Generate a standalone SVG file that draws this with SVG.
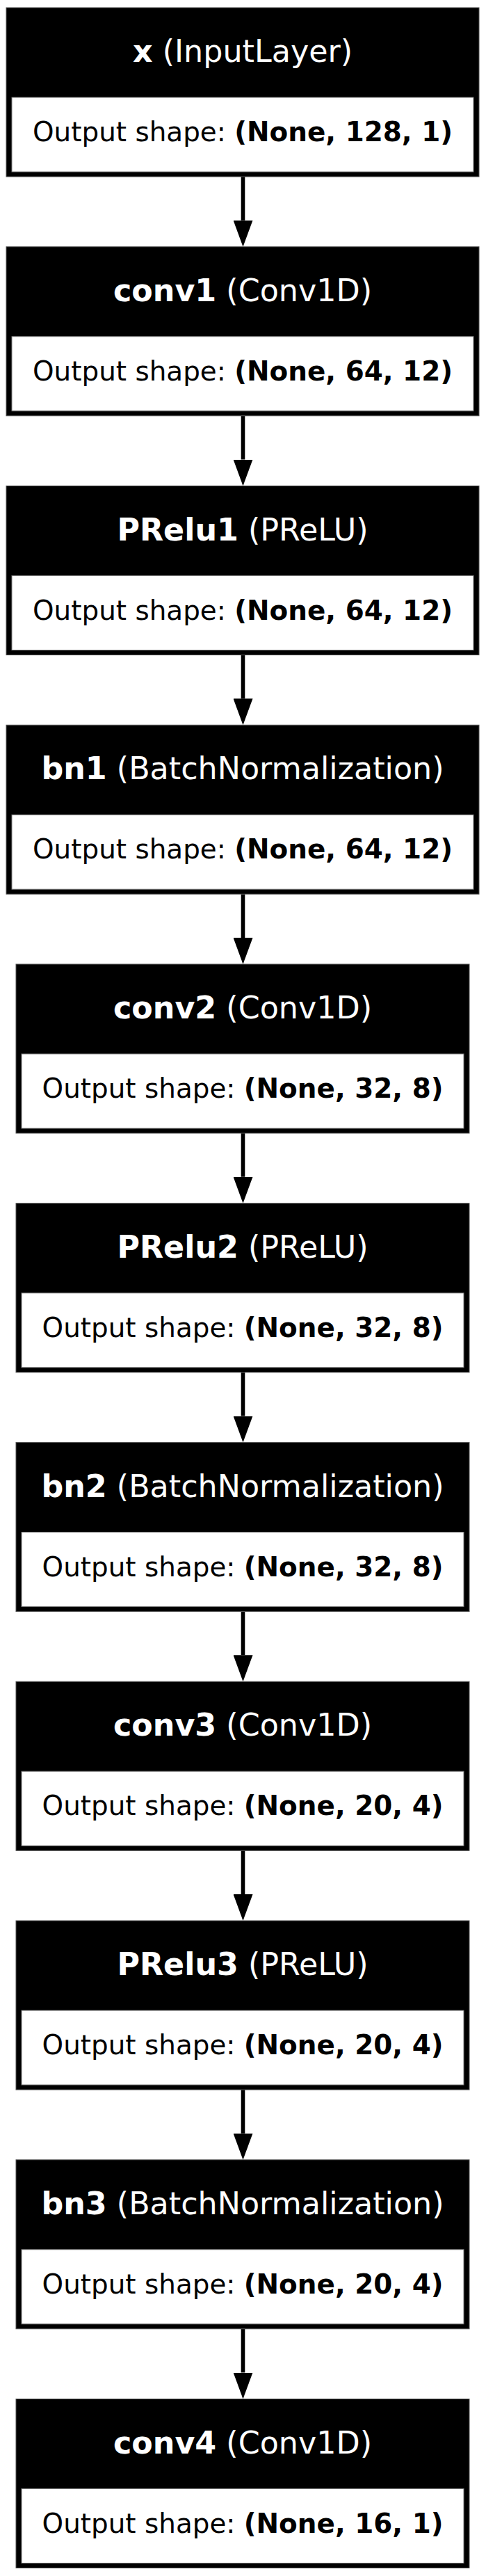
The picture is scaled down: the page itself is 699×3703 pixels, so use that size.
<svg xmlns="http://www.w3.org/2000/svg" width="699" height="3703" viewBox="0 0 699 3703">
<style>
.box{fill:#000;stroke:#555;stroke-width:1}
.cell{fill:#fff;stroke:#777;stroke-width:1}
.t{font-family:"DejaVu Sans",sans-serif;font-size:44.4px;fill:#fff;text-anchor:middle}
.o{font-family:"DejaVu Sans",sans-serif;font-size:38.9px;fill:#000;text-anchor:middle}
.b{font-weight:bold}
.e{stroke:#000;stroke-width:5.6;fill:none}
</style>
<defs>
<marker id="ah" markerUnits="userSpaceOnUse" markerWidth="38" markerHeight="28" refX="0" refY="14" orient="auto" viewBox="0 0 38 28">
<path d="M0,0 L38,14 L0,28 z" fill="#000"/>
</marker>
</defs>
<rect width="699" height="3703" fill="#fff"/>
<g id="connectors">
<line class="e" x1="349.5" y1="254" x2="349.5" y2="316.75" marker-end="url(#ah)"/>
<line class="e" x1="349.5" y1="597.75" x2="349.5" y2="660.5" marker-end="url(#ah)"/>
<line class="e" x1="349.5" y1="941.5" x2="349.5" y2="1004.25" marker-end="url(#ah)"/>
<line class="e" x1="349.5" y1="1285.25" x2="349.5" y2="1348" marker-end="url(#ah)"/>
<line class="e" x1="349.5" y1="1629" x2="349.5" y2="1691.75" marker-end="url(#ah)"/>
<line class="e" x1="349.5" y1="1972.75" x2="349.5" y2="2035.5" marker-end="url(#ah)"/>
<line class="e" x1="349.5" y1="2316.5" x2="349.5" y2="2379.25" marker-end="url(#ah)"/>
<line class="e" x1="349.5" y1="2660.25" x2="349.5" y2="2723" marker-end="url(#ah)"/>
<line class="e" x1="349.5" y1="3004" x2="349.5" y2="3066.75" marker-end="url(#ah)"/>
<line class="e" x1="349.5" y1="3347.75" x2="349.5" y2="3410.5" marker-end="url(#ah)"/>
</g>
<g id="x">
<rect class="box" x="9" y="11" width="680" height="243"/>
<rect class="cell" x="17" y="140" width="664" height="107"/>
<text class="t" x="349" y="89"><tspan class="b">x</tspan> (InputLayer)</text>
<text class="o" x="349" y="203">Output shape: <tspan class="b">(None, 128, 1)</tspan></text>
</g>
<g id="conv1">
<rect class="box" x="9" y="354.75" width="680" height="243"/>
<rect class="cell" x="17" y="483.75" width="664" height="107"/>
<text class="t" x="349" y="432.75"><tspan class="b">conv1</tspan> (Conv1D)</text>
<text class="o" x="349" y="546.75">Output shape: <tspan class="b">(None, 64, 12)</tspan></text>
</g>
<g id="PRelu1">
<rect class="box" x="9" y="698.5" width="680" height="243"/>
<rect class="cell" x="17" y="827.5" width="664" height="107"/>
<text class="t" x="349" y="776.5"><tspan class="b">PRelu1</tspan> (PReLU)</text>
<text class="o" x="349" y="890.5">Output shape: <tspan class="b">(None, 64, 12)</tspan></text>
</g>
<g id="bn1">
<rect class="box" x="9" y="1042.25" width="680" height="243"/>
<rect class="cell" x="17" y="1171.25" width="664" height="107"/>
<text class="t" x="349" y="1120.25"><tspan class="b">bn1</tspan> (BatchNormalization)</text>
<text class="o" x="349" y="1234.25">Output shape: <tspan class="b">(None, 64, 12)</tspan></text>
</g>
<g id="conv2">
<rect class="box" x="23" y="1386" width="652" height="243"/>
<rect class="cell" x="31" y="1515" width="636" height="107"/>
<text class="t" x="349" y="1464"><tspan class="b">conv2</tspan> (Conv1D)</text>
<text class="o" x="349" y="1578">Output shape: <tspan class="b">(None, 32, 8)</tspan></text>
</g>
<g id="PRelu2">
<rect class="box" x="23" y="1729.75" width="652" height="243"/>
<rect class="cell" x="31" y="1858.75" width="636" height="107"/>
<text class="t" x="349" y="1807.75"><tspan class="b">PRelu2</tspan> (PReLU)</text>
<text class="o" x="349" y="1921.75">Output shape: <tspan class="b">(None, 32, 8)</tspan></text>
</g>
<g id="bn2">
<rect class="box" x="23" y="2073.5" width="652" height="243"/>
<rect class="cell" x="31" y="2202.5" width="636" height="107"/>
<text class="t" x="349" y="2151.5"><tspan class="b">bn2</tspan> (BatchNormalization)</text>
<text class="o" x="349" y="2265.5">Output shape: <tspan class="b">(None, 32, 8)</tspan></text>
</g>
<g id="conv3">
<rect class="box" x="23" y="2417.25" width="652" height="243"/>
<rect class="cell" x="31" y="2546.25" width="636" height="107"/>
<text class="t" x="349" y="2495.25"><tspan class="b">conv3</tspan> (Conv1D)</text>
<text class="o" x="349" y="2609.25">Output shape: <tspan class="b">(None, 20, 4)</tspan></text>
</g>
<g id="PRelu3">
<rect class="box" x="23" y="2761" width="652" height="243"/>
<rect class="cell" x="31" y="2890" width="636" height="107"/>
<text class="t" x="349" y="2839"><tspan class="b">PRelu3</tspan> (PReLU)</text>
<text class="o" x="349" y="2953">Output shape: <tspan class="b">(None, 20, 4)</tspan></text>
</g>
<g id="bn3">
<rect class="box" x="23" y="3104.75" width="652" height="243"/>
<rect class="cell" x="31" y="3233.75" width="636" height="107"/>
<text class="t" x="349" y="3182.75"><tspan class="b">bn3</tspan> (BatchNormalization)</text>
<text class="o" x="349" y="3296.75">Output shape: <tspan class="b">(None, 20, 4)</tspan></text>
</g>
<g id="conv4">
<rect class="box" x="23" y="3448.5" width="652" height="243"/>
<rect class="cell" x="31" y="3577.5" width="636" height="107"/>
<text class="t" x="349" y="3526.5"><tspan class="b">conv4</tspan> (Conv1D)</text>
<text class="o" x="349" y="3640.5">Output shape: <tspan class="b">(None, 16, 1)</tspan></text>
</g>
</svg>
